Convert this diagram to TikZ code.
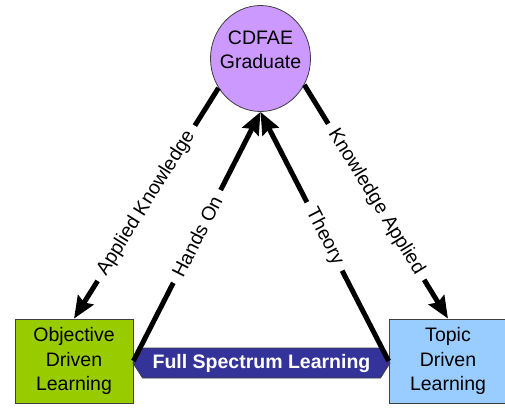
\documentclass[tikz,border=0pt]{standalone}
\usepackage{fontspec}
\setmainfont{Liberation Sans}
\usetikzlibrary{shapes.geometric,shapes.symbols,arrows.meta}
\definecolor{gradfill}{HTML}{CC99FF}
\definecolor{objfill}{HTML}{99CC00}
\definecolor{topicfill}{HTML}{99CCFF}
\definecolor{bandfill}{HTML}{333399}
\definecolor{edgegray}{HTML}{3F3F3F}
\begin{document}
\begin{tikzpicture}[x=1pt,y=-1pt,
  txt/.style={font=\fontsize{19.5}{24.5}\selectfont, align=center},
  learnbox/.style={draw=edgegray, line width=0.8pt, minimum width=118pt,
    minimum height=84pt, inner sep=0pt, txt},
  flow/.style={line width=5pt, -{Stealth[length=22pt,width=18pt,inset=3pt]}},
  lbl/.style={font=\fontsize{19.5}{23}\selectfont, fill=white, sloped, midway,
    inner xsep=8pt, inner ysep=1pt}
]
\useasboundingbox (0,0) rectangle (505,408);

% graduate at the apex
\node[ellipse, draw=edgegray, line width=0.8pt, fill=gradfill,
  minimum width=100pt, minimum height=106pt, inner sep=0pt] (cd) at (260.5,58.5) {};
\node[txt] (cdtext) at (260.5,50) {CDFAE\\Graduate};

% the two learning modes
\node[learnbox, fill=objfill] (obj) at (74,361) {Objective\\Driven\\Learning};
\node[learnbox, fill=topicfill] (topic) at (448,361) {Topic\\Driven\\Learning};

% double-pointed band between them
\node[signal, signal to=west and east, signal pointer angle=115,
  draw=edgegray, line width=0.8pt, fill=bandfill, text=white,
  font=\fontsize{19.5}{23}\selectfont\bfseries,
  minimum width=257pt, minimum height=30pt, inner sep=0pt] (band) at (261.5,363)
  {Full Spectrum Learning};

% flows
\draw[flow] (cd.215) -- node[lbl]{Applied Knowledge} (obj.north);
\draw[flow] (cd.-31) -- node[lbl]{Knowledge Applied} (topic.north);
\draw[flow] (obj.east) -- node[lbl]{Hands On} (cd.south);
\draw[flow] (topic.west) -- node[lbl]{Theory} (cd.south);
\end{tikzpicture}
\end{document}
